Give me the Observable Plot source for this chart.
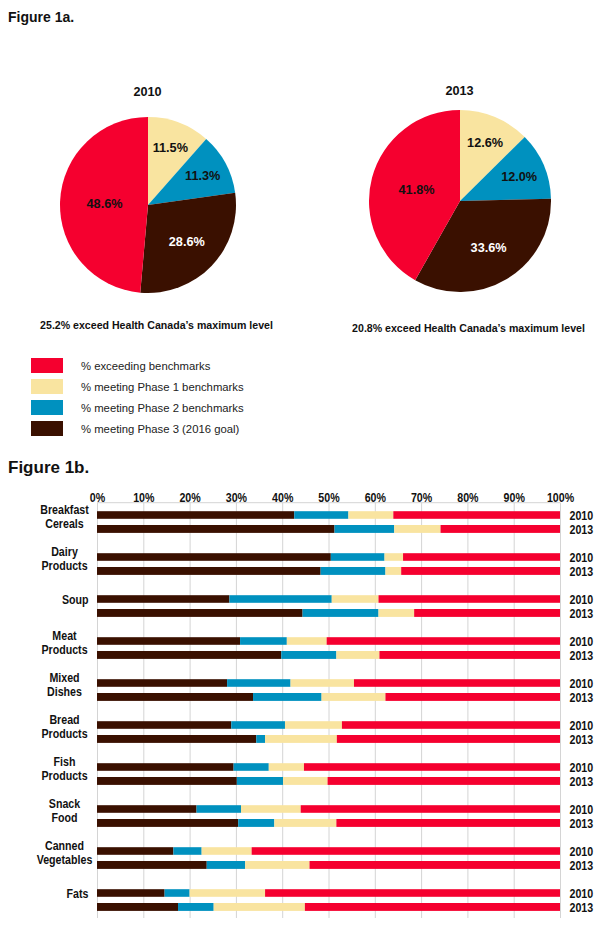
<!DOCTYPE html>
<html>
<head>
<meta charset="utf-8">
<script src="https://cdn.jsdelivr.net/npm/d3@7"></script>
<script src="https://cdn.jsdelivr.net/npm/@observablehq/plot@0.6"></script>
<style>
  body { margin: 0; background: #fff; font-family: "Liberation Sans", Arial, sans-serif; color: #111; }
  #page { position: relative; width: 602px; height: 928px; overflow: hidden; }
  .fig { position: absolute; left: 8px; font-weight: bold; color: #111; z-index: 3; }
  #pies { position: absolute; left: 0; top: 0; }
  #bars { position: absolute; left: 0; top: 480px; }
  .legend { position: absolute; left: 31px; top: 358px; z-index: 3; }
  .legend .row { display: flex; align-items: center; height: 15px; margin-bottom: 6px; font-size: 11.3px; color: #222; }
  .legend .sw { width: 32px; height: 15px; margin-right: 18px; }
</style>
</head>
<body>
<div id="page">
  <div id="pies"></div>
  <div class="fig" style="top:9px;font-size:14px;">Figure 1a.</div>
  <div class="legend" id="legend"></div>
  <div class="fig" style="top:458px;font-size:17px;">Figure 1b.</div>
  <div id="bars"></div>
</div>
<script>
// ---------- DATA ----------
const seriesKeys = ["exceed", "phase1", "phase2", "phase3"];
const seriesLabels = [
  "% exceeding benchmarks",
  "% meeting Phase 1 benchmarks",
  "% meeting Phase 2 benchmarks",
  "% meeting Phase 3 (2016 goal)"
];
const seriesColors = ["#f5002f", "#f9e4a0", "#0091bf", "#3a1000"];

// Figure 1a (pies)
const pieYears = ["2010", "2013"];
const piePhase1 = [11.5, 12.6];
const piePhase2 = [11.3, 12.0];
const piePhase3 = [28.6, 33.6];
const pieExceed = [48.6, 41.8];
const pieCaptions = [
  "25.2% exceed Health Canada\u2019s maximum level",
  "20.8% exceed Health Canada\u2019s maximum level"
];

// Figure 1b (stacked bars)
const categories = ["Breakfast\nCereals", "Dairy\nProducts", "Soup", "Meat\nProducts", "Mixed\nDishes",
  "Bread\nProducts", "Fish\nProducts", "Snack\nFood", "Canned\nVegetables", "Fats"];
const barYears = ["2010", "2013"];
const phase3_2010 = [42.6, 50.5, 28.6, 30.9, 28.1, 29.0, 29.5, 21.5, 16.5, 14.6];
const phase2_2010 = [11.7, 11.6, 22.1, 10.1, 13.7, 11.6, 7.6, 9.6, 6.1, 5.4];
const phase1_2010 = [9.7, 4.0, 10.1, 8.6, 13.7, 12.3, 7.6, 12.9, 10.8, 16.3];
const exceed_2010 = [36.0, 33.9, 39.2, 50.4, 44.5, 47.1, 55.3, 56.0, 66.6, 63.7];
const phase3_2013 = [51.3, 48.3, 44.4, 39.8, 33.7, 34.4, 30.2, 30.5, 23.7, 17.5];
const phase2_2013 = [12.9, 14.0, 16.4, 11.9, 14.8, 1.9, 10.0, 7.8, 8.3, 7.7];
const phase1_2013 = [10.0, 3.4, 7.7, 9.3, 13.8, 15.5, 9.6, 13.4, 13.9, 19.7];
const exceed_2013 = [25.8, 34.3, 31.5, 39.0, 37.7, 48.2, 50.2, 48.3, 54.1, 55.1];
const xTicks = [0, 10, 20, 30, 40, 50, 60, 70, 80, 90, 100];

// ---------- HELPERS ----------
const colorScale = Plot.scale({color: {domain: seriesKeys, range: seriesColors}});
const colorOf = k => colorScale.apply(k);

// Legend
const legend = document.getElementById("legend");
seriesKeys.forEach((k, i) => {
  const row = document.createElement("div");
  row.className = "row";
  row.innerHTML = `<div class="sw" style="background:${colorOf(k)}"></div><span>${seriesLabels[i]}</span>`;
  legend.appendChild(row);
});

// ---------- PIES ----------
const pieCx = [148, 460], pieCy = [205, 201], pieR = [88, 91];
const pieOrder = ["phase1", "phase2", "phase3", "exceed"];
const pieValues = {phase1: piePhase1, phase2: piePhase2, phase3: piePhase3, exceed: pieExceed};
const pieArcs = pieYears.map((y, i) =>
  d3.pie().sort(null).value(d => d.value)(pieOrder.map(k => ({key: k, value: pieValues[k][i]})))
);
const pieLabels = [];
pieArcs.forEach((arcs, i) => arcs.forEach(a => {
  const f = a.data.value < 20 ? 0.7 : (a.data.value > 40 ? 0.5 : 0.6);
  const [dx, dy] = d3.arc().innerRadius(0).outerRadius(2 * f * pieR[i]).centroid(a);
  pieLabels.push({x: pieCx[i] + dx, y: pieCy[i] + dy, text: a.data.value.toFixed(1) + "%", key: a.data.key});
}));
const pieTitles = pieYears.map((y, i) => ({x: pieCx[i] - 1, y: [91, 90][i], text: y}));
const pieCaps = pieCaptions.map((c, i) => ({x: pieCx[i] + 8, y: [325, 328][i], text: c}));

function pieSlices() {
  const g = d3.create("svg:g");
  pieArcs.forEach((arcs, i) => {
    g.append("g").attr("transform", `translate(${pieCx[i]},${pieCy[i]})`)
      .selectAll("path").data(arcs).join("path")
      .attr("d", d3.arc().innerRadius(0).outerRadius(pieR[i]))
      .attr("fill", d => colorOf(d.data.key));
  });
  return g.node();
}

const piePlot = Plot.plot({
  width: 602, height: 345,
  margin: 0,
  x: {type: "identity", axis: null},
  y: {type: "identity", axis: null},
  style: {fontFamily: "'Liberation Sans', Arial, sans-serif", fontWeight: "bold", color: "#111", background: "transparent"},
  marks: [
    pieSlices,
    Plot.text(pieLabels.filter(d => d.key !== "phase3"), {x: "x", y: "y", text: "text", fill: "#111", fontSize: 12.7}),
    Plot.text(pieLabels.filter(d => d.key === "phase3"), {x: "x", y: "y", text: "text", fill: "#fff", fontSize: 12.7}),
    Plot.text(pieTitles, {x: "x", y: "y", text: "text", fill: "#111", fontSize: 12.7}),
    Plot.text(pieCaps, {x: "x", y: "y", text: "text", fill: "#111", fontSize: 10.6})
  ]
});
document.getElementById("pies").appendChild(piePlot);

// ---------- BARS ----------
const stackOrder = ["phase3", "phase2", "phase1", "exceed"];
const barValues = {
  phase3: [phase3_2010, phase3_2013],
  phase2: [phase2_2010, phase2_2013],
  phase1: [phase1_2010, phase1_2013],
  exceed: [exceed_2010, exceed_2013]
};
const rows = [];
barYears.forEach((yr, yi) => categories.forEach((cat, ci) => stackOrder.forEach(s =>
  rows.push({category: cat, year: yr, series: s, value: barValues[s][yi][ci]}))));

const H = 450, MT = 16.85, MB = 4.15;

function topLine(index, scales, values, dims) {
  const g = d3.create("svg:g");
  g.append("line")
    .attr("x1", dims.marginLeft).attr("x2", dims.width - dims.marginRight)
    .attr("y1", dims.marginTop + 5.85).attr("y2", dims.marginTop + 5.85)
    .attr("stroke", "#d4d4d4");
  return g.node();
}

const barPlot = Plot.plot({
  width: 602, height: H,
  marginTop: MT, marginBottom: MB, marginLeft: 97, marginRight: 42,
  x: {domain: [0, 100], axis: null},
  y: {domain: categories, axis: null, padding: 0},
  color: {domain: seriesKeys, range: seriesColors},
  style: {fontFamily: "'Liberation Sans', Arial, sans-serif", fontWeight: "bold", fontSize: "13px", color: "#111", background: "transparent"},
  marks: [
    Plot.ruleX(xTicks, {x: d => d, stroke: "#d4d4d4", strokeOpacity: 1, insetTop: 5.85, insetBottom: 7.85}),
    topLine,
    Plot.barX(rows.filter(d => d.year === barYears[0]), {x: "value", y: "category", fill: "series", insetTop: 10.2, insetBottom: 24.2}),
    Plot.barX(rows.filter(d => d.year === barYears[1]), {x: "value", y: "category", fill: "series", insetTop: 24.0, insetBottom: 10.1}),
    Plot.text(xTicks, {x: d => d, frameAnchor: "top", dy: -4.8, text: d => d + "%", fill: "#111"}),
    Plot.text(categories.filter(c => !c.includes("\n")), {x: () => 0, y: d => d, text: d => d, textAnchor: "end", dx: -9, dy: -6.5, fill: "#111"}),
    Plot.text(categories.filter(c => c.includes("\n")), {x: () => 0, y: d => d, text: d => d, textAnchor: "middle", dx: -33, dy: -6, lineHeight: 1.05, fill: "#111"}),
    Plot.text(categories, {x: () => 100, y: d => d, text: () => barYears[0], textAnchor: "start", dx: 9, dy: -6.2, fill: "#111"}),
    Plot.text(categories, {x: () => 100, y: d => d, text: () => barYears[1], textAnchor: "start", dx: 9, dy: 7.8, fill: "#111"})
  ]
});
// condense the bar-chart lettering (reference uses a narrow bold face)
barPlot.querySelectorAll("text").forEach(t => {
  const tr = t.getAttribute("transform");
  if (tr) t.setAttribute("transform", tr + " scale(0.82,1)");
});
document.getElementById("bars").appendChild(barPlot);
</script>
</body>
</html>
